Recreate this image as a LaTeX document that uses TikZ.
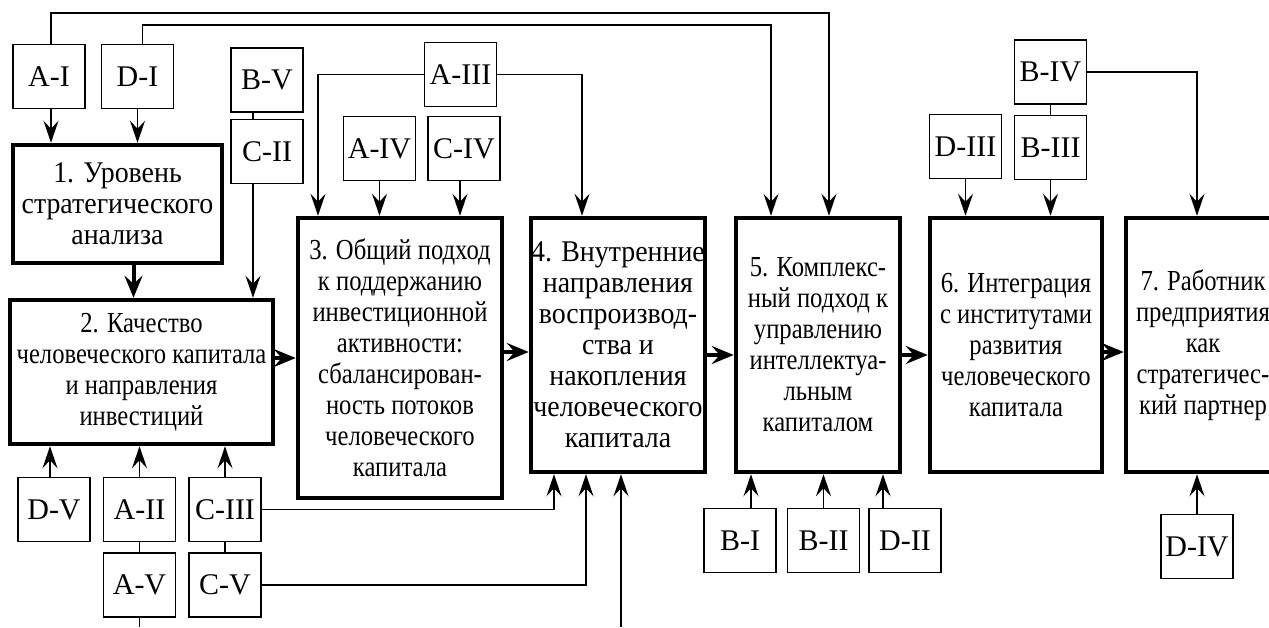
\documentclass[tikz,border=0pt]{standalone}
\usepackage{fontspec}
\setmainfont{Liberation Serif}
\newfontfamily\narrowfont[FakeStretch=0.85]{Liberation Serif}
\newfontfamily\slimfont[FakeStretch=0.93]{Liberation Serif}
\usepackage{tikz}
\usetikzlibrary{shapes,arrows.meta}
\usetikzlibrary{positioning}
\tikzstyle{level} = [rectangle, draw, line width=4.5pt, align=center,
    inner sep=0pt, font=\slimfont\fontsize{30}{31}\selectfont]
\tikzstyle{narrow} = [font=\narrowfont\fontsize{29}{31}\selectfont]
\tikzstyle{cell} = [rectangle, draw, line width=1.6pt, minimum width=72pt,
    minimum height=64pt, inner sep=0pt, font=\fontsize{30}{32}\selectfont]
\tikzstyle{line} = [draw, line width=1.6pt,
    -{Stealth[length=22pt,width=15pt,inset=8pt]}]
\tikzstyle{link} = [draw, line width=1.6pt]
\tikzstyle{flow} = [draw, line width=4pt,
    -{Stealth[length=22pt,width=18pt,inset=8pt]}]
\begin{document}
\begin{tikzpicture}[x=1pt, y=-1pt]
  \useasboundingbox (0,0) rectangle (1269,627);
  % Place nodes
  \node [level, minimum width=209pt, minimum height=118pt] (analysis) at (117.5,204)
    {1. Уровень\\стратегического\\анализа};
  \node [level, narrow, minimum width=263pt, minimum height=144pt] (quality) at (141.5,372)
    {2. Качество\\человеческого капитала\\и направления\\инвестиций};
  \node [level, narrow, minimum width=204pt, minimum height=280pt] (approach) at (400,358)
    {3. Общий подход\\к поддержанию\\инвестиционной\\активности:\\сбалансирован-\\ность потоков\\человеческого\\капитала};
  \node [level, minimum width=174pt, minimum height=254pt] (internal) at (618,345)
    {4. Внутренние\\направления\\воспроизвод-\\ства и\\накопления\\человеческого\\капитала};
  \node [level, narrow, minimum width=164pt, minimum height=254pt] (complex) at (818,345)
    {5. Комплекс-\\ный подход к\\управлению\\интеллектуа-\\льным\\капиталом};
  \node [level, narrow, minimum width=172pt, minimum height=254pt] (integration) at (1016,345)
    {6. Интеграция\\с институтами\\развития\\человеческого\\капитала};
  \node [level, narrow, minimum width=154pt, minimum height=254pt] (worker) at (1203,345)
    {7. Работник\\предприятия\\как\\стратегичес-\\кий партнер};

  \node [cell] (ai) at (49,76.5) {A-I};
  \node [cell] (di) at (137.5,76.5) {D-I};
  \node [cell] (bv) at (267,80) {B-V};
  \node [cell, below=6pt of bv] (cii) {C-II};
  \node [cell] (aiii) at (460.5,74.5) {A-III};
  \node [cell] (aiv) at (379.5,148.5) {A-IV};
  \node [cell] (civ) at (464,148.5) {C-IV};
  \node [cell] (biv) at (1050.5,72) {B-IV};
  \node [cell] (diii) at (965.5,146.5) {D-III};
  \node [cell, below=10pt of biv] (biii) {B-III};

  \node [cell] (dv) at (54,509.5) {D-V};
  \node [cell] (aii) at (139.5,509.5) {A-II};
  \node [cell] (ciii) at (225,509.5) {C-III};
  \node [cell, below=10pt of aii] (av) {A-V};
  \node [cell, below=10pt of ciii] (cv) {C-V};
  \node [cell] (bi) at (740,540.5) {B-I};
  \node [cell] (bii) at (823.5,540.5) {B-II};
  \node [cell] (dii) at (905,540.5) {D-II};
  \node [cell] (div) at (1197,546.5) {D-IV};

  \coordinate (railA) at (0,13);
  \coordinate (railD) at (0,25);
  \coordinate (bottomin) at (621,627);

  %paths
  \path [flow] ([xshift=16pt]analysis.south) -- ([xshift=16pt]analysis.south |- quality.north);
  \path [flow] (quality.east |- approach.west) -- (approach.west);
  \path [flow] ([yshift=6pt]approach.east) -- ([yshift=6pt]approach.east -| internal.west);
  \path [flow] ([yshift=-10pt]internal.east) -- ([yshift=-10pt]internal.east -| complex.west);
  \path [flow] ([yshift=-10pt]complex.east) -- ([yshift=-10pt]complex.east -| integration.west);
  \path [flow] ([yshift=-7pt]integration.east) -- ([yshift=-7pt]integration.east -| worker.west);

  \path [line] ([xshift=2pt]ai.north) |- ([xshift=11pt]complex.north |- railA) -- ([xshift=11pt]complex.north);
  \path [line] ([xshift=5pt]di.north) |- ([xshift=-47pt]complex.north |- railD) -- ([xshift=-47pt]complex.north);
  \path [line] ([xshift=2pt]ai.south) -- ([xshift=2pt]ai.south |- analysis.north);
  \path [line] (di.south) -- (di.south |- analysis.north);
  \path [link] ([xshift=-14pt]bv.south) -- ([xshift=-14pt]cii.north);
  \path [line] ([xshift=-14pt]cii.south) -- ([xshift=-14pt]cii.south |- quality.north);

  \path [line] (aiii.west) -| ([xshift=-82pt]approach.north);
  \path [line] (aiii.east) -| ([xshift=-36pt]internal.north);
  \path [line] (aiv.south) -- (aiv.south |- approach.north);
  \path [line] ([xshift=-4pt]civ.south) -- ([xshift=-4pt]civ.south |- approach.north);

  \path [line] ([xshift=-4pt]dv.north) -- ([xshift=-4pt]dv.north |- quality.south);
  \path [line] (aii.north) -- (aii.north |- quality.south);
  \path [line] (ciii.north) -- (ciii.north |- quality.south);
  \path [link] (aii) -- (av);
  \path [link] (ciii) -- (cv);
  \path [link] (av.south) -- (av.south |- bottomin);
  \path [line] (ciii.east) -| ([xshift=-64pt]internal.south);
  \path [line] (cv.east) -| ([xshift=-32pt]internal.south);
  \path [line] (bottomin) -- (bottomin |- internal.south);

  \path [line] ([xshift=11pt]bi.north) -- ([xshift=11pt]bi.north |- complex.south);
  \path [line] (bii.north) -- (bii.north |- complex.south);
  \path [line] ([xshift=-22pt]dii.north) -- ([xshift=-22pt]dii.north |- complex.south);

  \path [line] (diii.south) -- (diii.south |- integration.north);
  \path [line] (biii.south) -- (biii.south |- integration.north);
  \path [link] (biv) -- (biii);
  \path [line] (biv.east) -| ([xshift=-6pt]worker.north);
  \path [line] (div.north) -- (div.north |- worker.south);
\end{tikzpicture}
\end{document}
